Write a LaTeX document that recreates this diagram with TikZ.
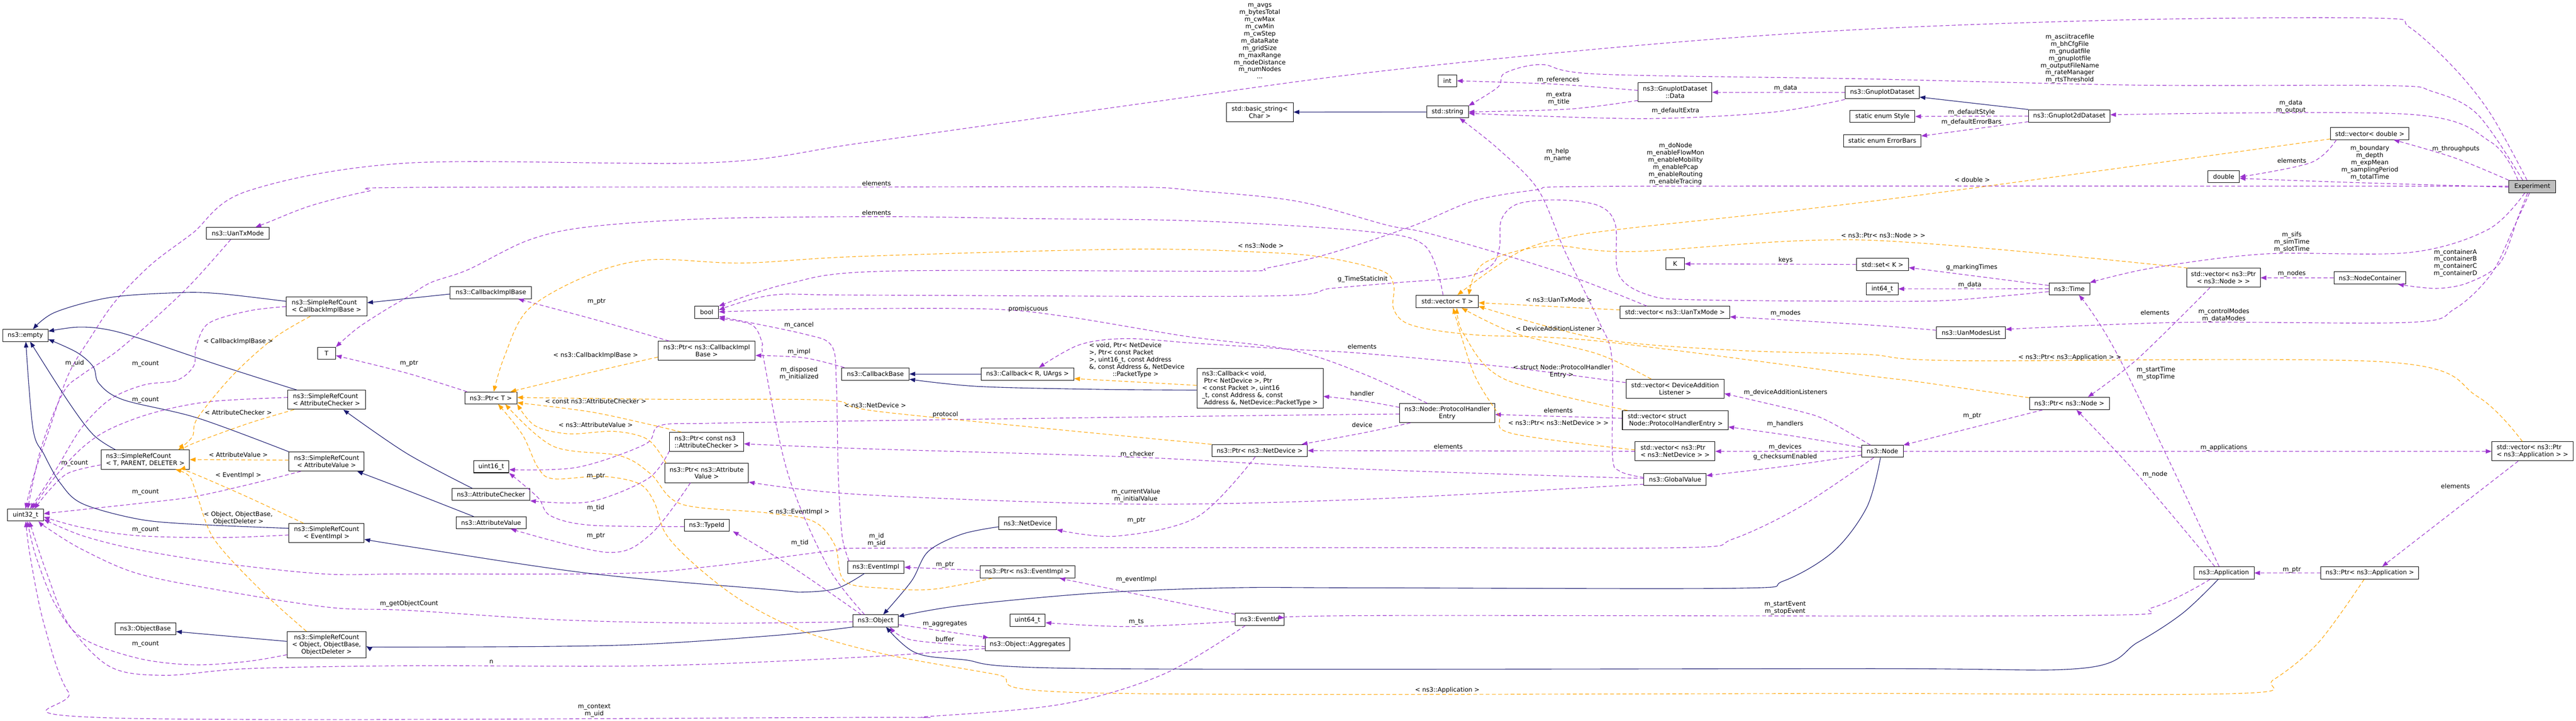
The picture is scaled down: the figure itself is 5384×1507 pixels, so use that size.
\documentclass[tikz,border=0pt]{standalone}
\usepackage{fontspec}
\setmainfont{DejaVu Sans}
\usetikzlibrary{arrows.meta}
\definecolor{inhc}{HTML}{191970}
\definecolor{usec}{HTML}{9A32CD}
\definecolor{tplc}{HTML}{FFA500}
\definecolor{expc}{HTML}{BFBFBF}
\begin{document}
\begin{tikzpicture}[x=1pt,y=-1pt,
 nbox/.style 2 args={draw=black,line width=1.1pt,fill=white,minimum width=#1pt,minimum height=#2pt,inner sep=0pt,align=center,font=\fontsize{13}{15}\selectfont},
 lab/.style={inner sep=0pt,align=center,font=\fontsize{13}{15}\selectfont},
 ue/.style={draw=usec,line width=1.2pt,dash pattern=on 8pt off 5pt,-{Triangle[length=12pt,width=9pt]}},
 te/.style={draw=tplc,line width=1.2pt,dash pattern=on 8pt off 5pt,-{Triangle[length=12pt,width=9pt]}},
 ie/.style={draw=inhc,line width=1.2pt,-{Triangle[length=12pt,width=9pt]}},
 sm/.style={smooth,tension=0.55}]
\fill[white] (0,0) rectangle (5384,1507);
\useasboundingbox (0,0) rectangle (5384,1507);
% ---------------- nodes
\node[nbox={95}{25}] (empty) at (53,701.5) {ns3::empty};
\node[nbox={75}{25}] (uint32) at (53.4,1077) {uint32\_t};
\node[nbox={131}{25}] (uantxmode) at (497,488) {ns3::UanTxMode};
\node[nbox={185}{40},align=left] (srcTPD) at (303.6,961) {ns3::SimpleRefCount\\< T, PARENT, DELETER >};
\node[nbox={127}{25}] (objbase) at (304,1314.5) {ns3::ObjectBase};
\node[nbox={169}{40},align=left] (srcCB) at (682.5,641) {ns3::SimpleRefCount\\< CallbackImplBase >};
\node[nbox={38}{25}] (T) at (682.5,738.5) {T};
\node[nbox={162}{40},align=left] (srcAC) at (682.5,836) {ns3::SimpleRefCount\\< AttributeChecker >};
\node[nbox={157}{40}] (srcAV) at (682.5,965) {ns3::SimpleRefCount\\< AttributeValue >};
\node[nbox={157}{40}] (srcEI) at (682.5,1114.6) {ns3::SimpleRefCount\\< EventImpl >};
\node[nbox={165}{55}] (srcOOO) at (682.5,1348) {ns3::SimpleRefCount\\< Object, ObjectBase,\\ObjectDeleter >};
\node[nbox={170}{26}] (cbimplbase) at (1026,611.8) {ns3::CallbackImplBase};
\node[nbox={109}{25}] (ptrT) at (1026,832) {ns3::Ptr< T >};
\node[nbox={74}{25}] (uint16) at (1026.7,976) {uint16\_t};
\node[nbox={163}{25}] (attrchecker) at (1026,1034) {ns3::AttributeChecker};
\node[nbox={147}{25}] (attrvalue) at (1026.5,1093) {ns3::AttributeValue};
\node[nbox={50}{25}] (boolt) at (1477,653) {bool};
\node[nbox={203}{40}] (ptrCBIB) at (1477,733.6) {ns3::Ptr< ns3::CallbackImpl\\Base >};
\node[nbox={155}{40},align=left] (ptrAC) at (1477,924) {ns3::Ptr< const ns3\\::AttributeChecker >};
\node[nbox={175}{40}] (ptrAV) at (1477,989) {ns3::Ptr< ns3::Attribute\\Value >};
\node[nbox={94}{25}] (typeid) at (1477,1098) {ns3::TypeId};
\node[nbox={141}{26}] (callbackbase) at (1829.6,782) {ns3::CallbackBase};
\node[nbox={118}{25}] (eventimpl) at (1830.7,1186) {ns3::EventImpl};
\node[nbox={94}{25}] (object) at (1830,1298) {ns3::Object};
\node[nbox={194}{26}] (callbackRU) at (2147.6,782) {ns3::Callback< R, UArgs >};
\node[nbox={121}{26}] (netdevice) at (2147.6,1094) {ns3::NetDevice};
\node[nbox={199}{26}] (ptrEI) at (2147.6,1195.6) {ns3::Ptr< ns3::EventImpl >};
\node[nbox={74}{25}] (uint64) at (2147.6,1297) {uint64\_t};
\node[nbox={176}{26}] (aggregates) at (2147.6,1347) {ns3::Object::Aggregates};
\node[nbox={140}{40}] (basicstring) at (2633,234.4) {std::basic\_string<\\Char >};
\node[nbox={264}{83},align=left] (callbackvoid) at (2633.4,811.7) {ns3::Callback< void,\\\hspace*{4pt}Ptr< NetDevice >, Ptr\\< const Packet >, uint16\\\_t, const Address \&, const\\\hspace*{4pt}Address \&, NetDevice::PacketType >};
\node[nbox={200}{25}] (ptrND) at (2632.7,942) {ns3::Ptr< ns3::NetDevice >};
\node[nbox={102}{26}] (eventid) at (2632.7,1294.5) {ns3::EventId};
\node[nbox={39}{25}] (intt) at (3025,169) {int};
\node[nbox={87}{25}] (stdstring) at (3025.4,234) {std::string};
\node[nbox={130}{26}] (vecT) at (3025,630.4) {std::vector< T >};
\node[nbox={199}{40}] (phe) at (3024.7,863.7) {ns3::Node::ProtocolHandler\\Entry};
\node[nbox={154}{40}] (gdata) at (3501,193) {ns3::GnuplotDataset\\::Data};
\node[nbox={39}{25}] (K) at (3501,551.7) {K};
\node[nbox={229}{25}] (vecUan) at (3500.7,653) {std::vector< ns3::UanTxMode >};
\node[nbox={205}{40}] (vecDAL) at (3501,813) {std::vector< DeviceAddition\\Listener >};
\node[nbox={221}{40},align=left] (vecPHE) at (3501.3,878.6) {std::vector< struct\\\hspace*{3pt}Node::ProtocolHandlerEntry >};
\node[nbox={167}{40},align=left] (vecND) at (3501,943.7) {std::vector< ns3::Ptr\\< ns3::NetDevice > >};
\node[nbox={130}{25}] (globalvalue) at (3501,1002.4) {ns3::GlobalValue};
\node[nbox={155}{26}] (gnuplotdataset) at (3934,193) {ns3::GnuplotDataset};
\node[nbox={136}{25}] (enumstyle) at (3934.4,243.7) {static enum Style};
\node[nbox={162}{25}] (errorbars) at (3934,294.4) {static enum ErrorBars};
\node[nbox={109}{25}] (setK) at (3934.4,553) {std::set< K >};
\node[nbox={66}{25}] (int64) at (3934,604) {int64\_t};
\node[nbox={144}{25}] (uanmodeslist) at (4119.5,695.5) {ns3::UanModesList};
\node[nbox={87}{25}] (nsnode) at (3934.3,943.6) {ns3::Node};
\node[nbox={170}{26}] (gnuplot2d) at (4325,242.5) {ns3::Gnuplot2dDataset};
\node[nbox={85}{25}] (nstime) at (4325,603.8) {ns3::Time};
\node[nbox={167}{26}] (ptrNode) at (4325,843.6) {ns3::Ptr< ns3::Node >};
\node[nbox={66}{25}] (dbl) at (4647.6,369) {double};
\node[nbox={154}{40}] (vecPtrNode) at (4647,580.8) {std::vector< ns3::Ptr\\< ns3::Node > >};
\node[nbox={126}{26}] (application) at (4648,1198) {ns3::Application};
\node[nbox={164}{25}] (vecdouble) at (4953,279.5) {std::vector< double >};
\node[nbox={150}{26}] (nodecontainer) at (4953,581) {ns3::NodeContainer};
\node[nbox={205}{26}] (ptrApp) at (4953,1198) {ns3::Ptr< ns3::Application >};
\node[nbox={97.5}{26},fill=expc] (experiment) at (5292.6,390.3) {Experiment};
\node[nbox={170}{40},align=left] (vecPtrApp) at (5293,943.7) {std::vector< ns3::Ptr\\< ns3::Application > >};
% ---------------- usage edges
\draw[ue] plot[sm] coordinates {(srcCB.west) (520,650) (436,676) (410,725) (405,765) (370,795) (300,805) (230,835) (170,895) (115,985) ([xshift=9.6pt]uint32.north)};
\draw[ue] plot[sm] coordinates {([yshift=5pt]srcAC.west) (436,840) (321,863) (230,897) (172,936) (115,997) ([xshift=13.6pt]uint32.north)};
\draw[ue] plot[sm] coordinates {([yshift=-11pt]srcTPD.west) (143,989) (103,1025) ([xshift=18.6pt]uint32.north)};
\draw[ue] plot[sm] coordinates {([xshift=-54pt]srcAV.south) (516,1014) (402,1039) (287,1053) ([yshift=3pt]uint32.east)};
\draw[ue] plot[sm] coordinates {([yshift=-4pt]srcEI.west) (459,1124) (287,1120) (172,1103) ([yshift=-4pt]uint32.east)};
\draw[ue] plot[sm] coordinates {([yshift=-21pt]srcOOO.west) (516,1383) (402,1390) (287,1376) (172,1334) (115,1263) (75,1163) ([xshift=4pt]uint32.south)};
\draw[ue] plot[sm] coordinates {([xshift=-15pt]uantxmode.south) (402,591) (321,668) (241,737) (172,783) (132,821) (86,936) ([xshift=4.6pt]uint32.north)};
\draw[ue] plot[sm] coordinates {([xshift=-11pt]experiment.north) (5206,239) (5130,143) (5036,57) (4969,38) (4468,41) (3900,61) (3411,96) (2850,153) (2361,220) (1800,299) (1488,340) (850,341) (516,400) (402,488) (316,553) (241,630) (189,706) (143,783) (103,898) (69,1000) (uint32.north)};
\draw[ue] plot[sm] coordinates {([yshift=-2pt]object.west) (1488,1303) (1169,1296) (850,1276) (689,1270) (459,1234) (287,1199) (172,1149) (100,1105) ([xshift=27pt]uint32.south)};
\draw[ue] plot[sm] coordinates {([xshift=-30pt]eventid.south) (2431,1410) (2221,1472) (1940,1498) (1800,1500) (230,1501) (143,1447) (92,1305) (63,1163) ([xshift=0.6pt]uint32.south)};
\draw[ue] plot[sm] coordinates {([xshift=-18pt]nsnode.south) (3762,1060) (3622,1127) (3516,1145) (2850,1145) (1850,1146) (1743,1151) (1488,1184) (1296,1199) (850,1200) (677,1200) (459,1177) (287,1149) (172,1120) ([yshift=-9pt]uint32.east)};
\draw[ue] plot[sm] coordinates {([yshift=-9pt]aggregates.west) (1800,1374) (1360,1392) (850,1392) (517,1398) (344,1412) (230,1394) (143,1305) (98,1199) ([xshift=8pt]uint32.south)};
\draw[ue] plot[sm] coordinates {([yshift=1pt]experiment.west) (4000,389) (3304,390) (3210,397) (3080,420) (2951,473) (2779,530) (2650,560) (2572,567) (1850,567) (1647,593) (boolt.north east)};
\draw[ue] plot[sm] coordinates {([yshift=-6pt]nstime.west) (4089,627) (3950,630) (3551,627) (3446,617) (3383,574) (3376,469) (3341,430) (3257,418) (3173,426) (3138,459) (3134,517) (3117,555) (3060,579) (2920,591) (2782,603) (2642,619) (1800,617) (1615,617) ([yshift=5pt]boolt.east)};
\draw[ue] plot[sm] coordinates {([xshift=-41.7pt]phe.north) (2850,782) (2700,732) (2478,703) (2229,662) (2063,646) (1732,646) ([yshift=1pt]boolt.east)};
\draw[ue] plot[sm] coordinates {([xshift=-56pt]eventimpl.north) (1760,1120) (1752,991) (1748,800) (1738,723) (1679,698) ([yshift=-9pt]boolt.east)};
\draw[ue] plot[sm] coordinates {([xshift=-23pt]object.north) (1730,1184) (1647,991) (1596,750) (1593,717) (1571,679) (boolt.south east)};
\draw[ue] plot[sm] coordinates {([xshift=-65pt]callbackbase.north) (1680,748) ([yshift=-9.6pt]ptrCBIB.east)};
\draw[ue] plot[sm] coordinates {([xshift=-78.5pt]ptrCBIB.north) (1250,670) ([xshift=57pt]cbimplbase.south)};
\draw[ue] plot[sm] coordinates {([xshift=-50pt]ptrT.north) (850,780) ([yshift=-5pt]T.east)};
\draw[ue] plot[sm] coordinates {([xshift=-9pt]vecT.north) (2977,513) (2848,483) (2502,462) (2151,457) (1850,453) (1488,457) (1233,474) (1105,502) (978,564) (900,591) (850,622) (804,649) (746,687) (T.north east)};
\draw[ue] plot[sm] coordinates {([xshift=-58.7pt]vecUan.north) (3253,567) (2994,490) (2900,471) (2712,421) (2502,399) (2361,391) (1800,391) (850,392) (769,400) (650,430) (560,465) ([xshift=37pt]uantxmode.north)};
\draw[ue] plot[sm] coordinates {([xshift=-20pt]experiment.north) (5178,239) (5083,191) (4988,179) (4468,178) (3900,165) (3341,155) (3222,135) (3145,153) (3131,182) (stdstring.north east)};
\draw[ue] plot[sm] coordinates {([yshift=4pt]gdata.west) (3250,176) (intt.east)};
\draw[ue] plot[sm] coordinates {([yshift=-17pt]gdata.west) (3280,228) (stdstring.east)};
\draw[ue] plot[sm] coordinates {([yshift=-15pt]gnuplotdataset.west) (3700,235) (3432,248) ([yshift=-3pt]stdstring.east)};
\draw[ue] plot[sm] coordinates {([yshift=4pt]globalvalue.west) (3385,985) (3370,950) (3369,750) (3341,670) (3271,526) (3215,397) (3131,311) ([xshift=25pt]stdstring.south)};
\draw[ue] (gnuplotdataset) -- (gdata);
\draw[ue] (gnuplot2d) -- (enumstyle);
\draw[ue] ([yshift=-12pt]gnuplot2d.west) -- ([yshift=10pt]errorbars.east);
\draw[ue] plot[sm] coordinates {([xshift=-30pt]experiment.north) (5206,297) (5036,239) ([yshift=2.5pt]gnuplot2d.east)};
\draw[ue] plot[sm] coordinates {(experiment.north west) (5130,330) ([xshift=50pt]vecdouble.south)};
\draw[ue] plot[sm] coordinates {([xshift=-70pt]vecdouble.south) (4830,340) ([yshift=-1pt]dbl.east)};
\draw[ue] plot[sm] coordinates {([yshift=-1pt]experiment.west) (4900,381) ([yshift=-4pt]dbl.east)};
\draw[ue] plot[sm] coordinates {([xshift=-16pt]experiment.south) (5200,480) (5036,528) (4733,531) (4500,560) (nstime.north east)};
\draw[ue] plot[sm] coordinates {([xshift=-10pt]application.north) (4430,750) ([xshift=20pt]nstime.south)};
\draw[ue] ([yshift=7pt]nstime.west) -- ([yshift=-6.5pt]setK.east);
\draw[ue] (nstime) -- (int64);
\draw[ue] (setK) -- (K);
\draw[ue] plot[sm] coordinates {([xshift=-6pt]experiment.south) (5253,478) (5206,574) (5130,646) (5036,674) (4562,674) ([yshift=7pt]uanmodeslist.east)};
\draw[ue] plot[sm] coordinates {([xshift=-10pt]experiment.south) (5263,454) (5225,550) (5159,591) (5092,603) ([xshift=59pt]nodecontainer.south)};
\draw[ue] (nodecontainer) -- (vecPtrNode);
\draw[ue] plot[sm] coordinates {([yshift=5pt]uanmodeslist.west) (3900,679) ([yshift=-9.4pt]vecUan.east)};
\draw[ue] plot[sm] coordinates {([xshift=-28pt]vecPtrNode.south) (4468,750) ([xshift=39pt]ptrNode.north)};
\draw[ue] plot[sm] coordinates {([xshift=-19pt]application.north) (4468,993) ([xshift=15pt]ptrNode.south)};
\draw[ue] ([xshift=-56pt]ptrNode.south) -- (nsnode.north east);
\draw[ue] (nsnode) -- (vecPtrApp);
\draw[ue] ([xshift=-30pt]vecPtrApp.south) -- ([xshift=26pt]ptrApp.north);
\draw[ue] (ptrApp) -- (application);
\draw[ue] plot[sm] coordinates {([xshift=-29pt]application.south) (4500,1270) (4345,1287) (2900,1287) ([yshift=2.5pt]eventid.east)};
\draw[ue] plot[sm] coordinates {([xshift=-25pt]nsnode.north) (3820,880) (3762,860) ([yshift=-10pt]vecDAL.east)};
\draw[ue] plot[sm] coordinates {([yshift=8pt]nsnode.west) (3750,912) ([yshift=-14pt]vecPHE.east)};
\draw[ue] (nsnode) -- (vecND);
\draw[ue] plot[sm] coordinates {([yshift=-8pt]nsnode.west) (3730,975) ([yshift=8pt]globalvalue.east)};
\draw[ue] ([yshift=4pt]vecPHE.west) -- ([yshift=-3pt]phe.east);
\draw[ue] (vecND) -- (ptrND);
\draw[ue] plot[sm] coordinates {([xshift=-77pt]phe.south) (2850,905) ([xshift=88pt]ptrND.north)};
\draw[ue] plot[sm] coordinates {([yshift=12pt]phe.west) (2848,838) ([yshift=-17pt]callbackvoid.east)};
\draw[ue] plot[sm] coordinates {([yshift=13pt]vecDAL.west) (3145,767) (2850,739) (2712,731) (2502,718) (2354,708) (2256,721) ([xshift=24pt]callbackRU.north)};
\draw[ue] plot[sm] coordinates {([yshift=2pt]globalvalue.west) (2850,981) (2376,956) (1800,938) ([yshift=-4pt]ptrAC.east)};
\draw[ue] plot[sm] coordinates {([yshift=-10pt]globalvalue.west) (2850,1044) (2361,1054) (1800,1034) ([yshift=-19pt]ptrAV.east)};
\draw[ue] plot[sm] coordinates {([yshift=-2pt]phe.west) (2700,868) (2300,873) (1800,880) (1488,885) (1379,890) (1348,929) (1207,977) ([yshift=-6pt]uint16.east)};
\draw[ue] plot[sm] coordinates {([yshift=-3pt]typeid.west) (1233,1098) (1150,1078) (1124,1040) (uint16.south east)};
\draw[ue] plot[sm] coordinates {([yshift=-19pt]ptrAC.west) (1354,1001) (1233,1049) (attrchecker.south east)};
\draw[ue] plot[sm] coordinates {([xshift=-34pt]ptrAV.south) (1360,1117) (1271,1155) ([xshift=41pt]attrvalue.south)};
\draw[ue] plot[sm] coordinates {([xshift=-30pt]object.north) (1655,1185) ([xshift=55pt]typeid.south)};
\draw[ue] ([yshift=3pt]ptrEI.west) -- (eventimpl.east);
\draw[ue] plot[sm] coordinates {([xshift=-9pt]ptrND.south) (2502,1081) (2333,1121) (netdevice.south east)};
\draw[ue] ([yshift=10pt]eventid.west) -- ([xshift=67pt]ptrEI.south);
\draw[ue] plot[sm] coordinates {([yshift=-5pt]eventid.west) (2361,1310) ([yshift=-5pt]uint64.east)};
\draw[ue] ([yshift=-8pt]object.east) -- ([xshift=-81pt]aggregates.north);
\draw[ue] plot[sm] coordinates {([yshift=-5pt]aggregates.west) (1905,1338) ([xshift=30pt]object.south)};
% ---------------- inheritance edges
\draw[ie] plot[sm] coordinates {([yshift=11pt]srcCB.west) (459,614) (373,612) (230,622) (115,653) ([xshift=16pt]empty.north)};
\draw[ie] plot[sm] coordinates {([xshift=-62pt]srcAC.north) (459,764) (287,706) (218,688) (161,684) ([yshift=9pt]empty.east)};
\draw[ie] plot[sm] coordinates {([xshift=-79pt]srcAV.north) (413,874) (258,836) (207,802) (195,767) (161,737) ([yshift=-8pt]empty.east)};
\draw[ie] plot[sm] coordinates {([xshift=-62pt]srcTPD.north) (195,909) (143,840) ([xshift=10pt]empty.south)};
\draw[ie] plot[sm] coordinates {([yshift=10pt]srcEI.west) (402,1096) (287,1085) (172,1053) (126,1010) (92,950) (69,897) ([xshift=1pt]empty.south)};
\draw[ie] ([yshift=7pt]srcOOO.west) -- ([yshift=-6pt]objbase.east);
\draw[ie] ([yshift=-3pt]cbimplbase.west) -- ([yshift=8pt]srcCB.east);
\draw[ie] plot[sm] coordinates {([xshift=-39pt]attrchecker.north) (850,948) ([xshift=35pt]srcAC.south)};
\draw[ie] plot[sm] coordinates {([xshift=-36.5pt]attrvalue.north) (850,1025) ([xshift=64pt]srcAV.south)};
\draw[ie] plot[sm] coordinates {([xshift=-24pt]eventimpl.south) (1750,1230) (1679,1238) (1615,1233) (1233,1199) (850,1142) ([yshift=-13pt]srcEI.east)};
\draw[ie] plot[sm] coordinates {(object.south west) (1615,1329) (1296,1349) (850,1353) ([yshift=-3pt]srcOOO.east)};
\draw[ie] (callbackRU) -- (callbackbase);
\draw[ie] plot[sm] coordinates {([yshift=-4pt]callbackvoid.west) (2291,814) (2045,808) ([yshift=-11pt]callbackbase.east)};
\draw[ie] plot[sm] coordinates {([yshift=-7.5pt]netdevice.west) (2010,1117) (1940,1153) (1905,1215) ([xshift=16pt]object.north)};
\draw[ie] plot[sm] coordinates {([xshift=-4pt]nsnode.south) (3902,1060) (3832,1153) (3727,1215) (3622,1230) (2850,1229) (2572,1229) (2291,1240) (2010,1266) ([yshift=9pt]object.east)};
\draw[ie] plot[sm] coordinates {([xshift=-12pt]application.south) (4562,1282) (4468,1343) (4354,1397) (3900,1398) (2291,1398) (2010,1379) (1912,1364) ([xshift=22pt]object.south)};
\draw[ie] (gnuplot2d.north west) -- ([yshift=-10pt]gnuplotdataset.east);
\draw[ie] (stdstring) -- (basicstring);
% ---------------- template edges
\draw[te] plot[sm] coordinates {([xshift=-34pt]srcCB.south) (574,706) (488,783) (413,874) (402,913) ([xshift=69pt]srcTPD.north)};
\draw[te] plot[sm] coordinates {([xshift=-68pt]srcAC.south) (517,886) (402,928) ([xshift=81pt]srcTPD.north)};
\draw[te] ([yshift=3pt]srcAV.west) -- (srcTPD.east);
\draw[te] plot[sm] coordinates {([xshift=-48pt]srcEI.north) (517,1039) (402,989) ([xshift=72pt]srcTPD.south)};
\draw[te] plot[sm] coordinates {([xshift=-42pt]srcOOO.north) (545,1234) (448,1128) (413,1039) (396,996) ([xshift=63pt]srcTPD.south)};
\draw[te] plot[sm] coordinates {([yshift=-13pt]ptrCBIB.west) (1233,779) ([xshift=41pt]ptrT.north)};
\draw[te] plot[sm] coordinates {([xshift=-53pt]ptrAC.north) (1360,888) (1233,861) ([yshift=-10pt]ptrT.east)};
\draw[te] plot[sm] coordinates {([xshift=-85pt]ptrAV.north) (1354,919) (1284,902) (1188,907) (1118,890) (ptrT.south east)};
\draw[te] plot[sm] coordinates {([xshift=-74pt]ptrEI.south) (1950,1232) (1850,1230) (1765,1215) (1745,1140) (1700,1090) (1600,1072) (1424,1054) (1360,991) (1296,953) (1156,933) ([xshift=30pt]ptrT.south)};
\draw[te] plot[sm] coordinates {(ptrND.north west) (1850,862) (1732,837) (1400,835) ([yshift=1pt]ptrT.east)};
\draw[te] plot[sm] coordinates {([yshift=12pt]ptrNode.west) (4000,797) (3900,785) (3339,713) (3080,700) (2951,680) (2913,647) (2913,597) (2890,567) (2780,540) (2650,528) (2361,521) (1800,536) (1552,550) (1360,543) (1233,574) (1105,646) (1054,746) ([xshift=6pt]ptrT.north)};
\draw[te] ([yshift=5pt]vecUan.west) -- ([yshift=-2.6pt]vecT.east);
\draw[te] plot[sm] coordinates {([xshift=-50pt]vecDAL.north) (3339,740) (3167,697) ([xshift=30pt]vecT.south)};
\draw[te] plot[sm] coordinates {([xshift=-100pt]vecPHE.north) (3145,793) (3060,700) ([xshift=20pt]vecT.south)};
\draw[te] plot[sm] coordinates {([yshift=3pt]vecND.west) (3159,906) (3131,865) (3080,780) ([xshift=12pt]vecT.south)};
\draw[te] plot[sm] coordinates {([xshift=-75pt]vecPtrNode.north) (3900,502) (3411,526) (3236,514) (3102,550) ([xshift=45pt]vecT.north)};
\draw[te] plot[sm] coordinates {([yshift=-11pt]vecdouble.west) (3950,416) (3397,478) (3271,497) (3187,521) (3117,564) ([xshift=21pt]vecT.north)};
\draw[te] plot[sm] coordinates {([xshift=-21pt]vecPtrApp.north) (5178,829) (4988,757) (4089,754) (3900,741) (3620,732) (3341,708) ([yshift=-10pt]vecT.east)};
\draw[te] plot[sm] coordinates {([xshift=-12pt]ptrApp.south) (4846,1343) (4752,1421) (4676,1450) (3900,1450) (2291,1449) (2081,1410) (1850,1368) (1679,1320) (1552,1257) (1456,1184) (1392,1117) (1367,1049) (1335,1011) (1258,996) (1156,1001) (1124,977) (1092,909) ([xshift=15pt]ptrT.south)};
\draw[te] ([yshift=6pt]callbackvoid.west) -- ([yshift=-9.6pt]callbackRU.east);
% ---------------- labels
\node[lab] (l1) at (304,760.5) {m\_count};
\node[lab] (l2) at (156,760) {m\_uid};
\node[lab] (l3) at (304,836) {m\_count};
\node[lab] (l4) at (156,969) {m\_count};
\node[lab] (l5) at (304,1029) {m\_count};
\node[lab] (l6) at (304,1108) {m\_count};
\node[lab] (l7) at (304,1347) {m\_count};
\node[lab] (l8) at (855,1262) {m\_getObjectCount};
\node[lab] (l9) at (1242,1486) {m\_context\\m\_uid};
\node[lab] (l10) at (1832,1129) {m\_id\\m\_sid};
\node[lab] (l11) at (1027,1384) {n};
\node[lab] (l12) at (498,714.6) {< CallbackImplBase >};
\node[lab] (l13) at (498,863) {< AttributeChecker >};
\node[lab] (l14) at (498,951) {< AttributeValue >};
\node[lab] (l15) at (498,994.4) {< EventImpl >};
\node[lab] (l16) at (498,1083) {< Object, ObjectBase,\\ObjectDeleter >};
\node[lab] (l17) at (855,760) {m\_ptr};
\node[lab] (l18) at (1832,383) {elements};
\node[lab] (l19) at (1832,445) {elements};
\node[lab] (l20) at (1247,631) {m\_ptr};
\node[lab] (l21) at (1245,743) {< ns3::CallbackImplBase >};
\node[lab] (l22) at (1245,839) {< const ns3::AttributeChecker >};
\node[lab] (l23) at (1245,888) {< ns3::AttributeValue >};
\node[lab] (l24) at (1245.5,996) {m\_ptr};
\node[lab] (l25) at (1245,1062) {m\_tid};
\node[lab] (l26) at (1245.5,1121) {m\_ptr};
\node[lab] (l27) at (1670,680) {m\_cancel};
\node[lab] (l28) at (1670,736) {m\_impl};
\node[lab] (l29) at (1670,781) {m\_disposed\\m\_initialized};
\node[lab] (l30) at (1829,847) {< ns3::NetDevice >};
\node[lab] (l31) at (1670,1071) {< ns3::EventImpl >};
\node[lab] (l32) at (1671.5,1135) {m\_tid};
\node[lab] (l33) at (2149,646) {promiscuous};
\node[lab] (l34) at (1976,867) {protocol};
\node[lab,align=left] (l35) at (2376,753) {< void, Ptr< NetDevice\\>, Ptr< const Packet\\>, uint16\_t, const Address\\\&, const Address \&, NetDevice\\\hspace*{49pt}::PacketType >};
\node[lab] (l36) at (2377,950) {m\_checker};
\node[lab] (l37) at (2374,1036) {m\_currentValue\\m\_initialValue};
\node[lab] (l38) at (2375,1088.6) {m\_ptr};
\node[lab] (l39) at (1975,1181) {m\_ptr};
\node[lab] (l40) at (2375,1212) {m\_eventImpl};
\node[lab] (l41) at (2375,1300) {m\_ts};
\node[lab] (l42) at (1975,1305) {m\_aggregates};
\node[lab] (l43) at (1975,1336) {buffer};
\node[lab] (l44) at (2635,514) {< ns3::Node >};
\node[lab] (l45) at (2848,584) {g\_TimeStaticInit};
\node[lab] (l46) at (2847,724.6) {elements};
\node[lab] (l47) at (2847,822.5) {handler};
\node[lab] (l48) at (2847,888.4) {device};
\node[lab] (l49) at (2633,86) {m\_avgs\\m\_bytesTotal\\m\_cwMax\\m\_cwMin\\m\_cwStep\\m\_dataRate\\m\_gridSize\\m\_maxRange\\m\_nodeDistance\\m\_numNodes\\...};
\node[lab] (l50) at (3257,167.4) {m\_references};
\node[lab] (l51) at (3258,206) {m\_extra\\m\_title};
\node[lab] (l52) at (3502,231.5) {m\_defaultExtra};
\node[lab] (l53) at (3255.5,324) {m\_help\\m\_name};
\node[lab] (l54) at (3502,343) {m\_doNode\\m\_enableFlowMon\\m\_enableMobility\\m\_enablePcap\\m\_enableRouting\\m\_enableTracing};
\node[lab] (l55) at (3258,627) {< ns3::UanTxMode >};
\node[lab] (l56) at (3258,687) {< DeviceAdditionListener >};
\node[lab] (l57) at (3264,777) {< struct Node::ProtocolHandler\\Entry >};
\node[lab] (l58) at (3257,858.5) {elements};
\node[lab] (l59) at (3257,884.3) {< ns3::Ptr< ns3::NetDevice > >};
\node[lab] (l60) at (3027,934) {elements};
\node[lab] (l61) at (3025,1443) {< ns3::Application >};
\node[lab] (l62) at (3732,184) {m\_data};
\node[lab] (l63) at (3732,544) {keys};
\node[lab] (l64) at (3732,655) {m\_modes};
\node[lab] (l65) at (3732,820.5) {m\_deviceAdditionListeners};
\node[lab] (l66) at (3731,887) {m\_handlers};
\node[lab] (l67) at (3731,935) {m\_devices};
\node[lab] (l68) at (3731,955.3) {g\_checksumEnabled};
\node[lab] (l69) at (3731,1271) {m\_startEvent\\m\_stopEvent};
\node[lab] (l70) at (3936,492.5) {< ns3::Ptr< ns3::Node > >};
\node[lab] (l71) at (4120.5,235.3) {m\_defaultStyle};
\node[lab] (l72) at (4120.5,256) {m\_defaultErrorBars};
\node[lab] (l73) at (4122,375.5) {< double >};
\node[lab] (l74) at (4121,558.7) {g\_markingTimes};
\node[lab] (l75) at (4117,595.5) {m\_data};
\node[lab] (l76) at (4122,870) {m\_ptr};
\node[lab] (l77) at (4326,122.7) {m\_asciitracefile\\m\_bhCfgFile\\m\_gnudatfile\\m\_gnuplotfile\\m\_outputFileName\\m\_rateManager\\m\_rtsThreshold};
\node[lab] (l78) at (4326,747.4) {< ns3::Ptr< ns3::Application > >};
\node[lab] (l79) at (4504,654) {elements};
\node[lab] (l80) at (4504,992) {m\_node};
\node[lab] (l81) at (4506,781) {m\_startTime\\m\_stopTime};
\node[lab] (l82) at (4788,223) {m\_data\\m\_output};
\node[lab] (l83) at (4790,336) {elements};
\node[lab] (l84) at (4790,506) {m\_sifs\\m\_simTime\\m\_slotTime};
\node[lab] (l85) at (4790,572) {m\_nodes};
\node[lab] (l86) at (4648,659) {m\_controlModes\\m\_dataModes};
\node[lab] (l87) at (4648,936) {m\_applications};
\node[lab] (l88) at (4790,1191.5) {m\_ptr};
\node[lab] (l89) at (4953,341) {m\_boundary\\m\_depth\\m\_expMean\\m\_samplingPeriod\\m\_totalTime};
\node[lab] (l90) at (5133,312) {m\_throughputs};
\node[lab] (l91) at (5132,550) {m\_containerA\\m\_containerB\\m\_containerC\\m\_containerD};
\node[lab] (l92) at (5132,1016.5) {elements};
\end{tikzpicture}
\end{document}
